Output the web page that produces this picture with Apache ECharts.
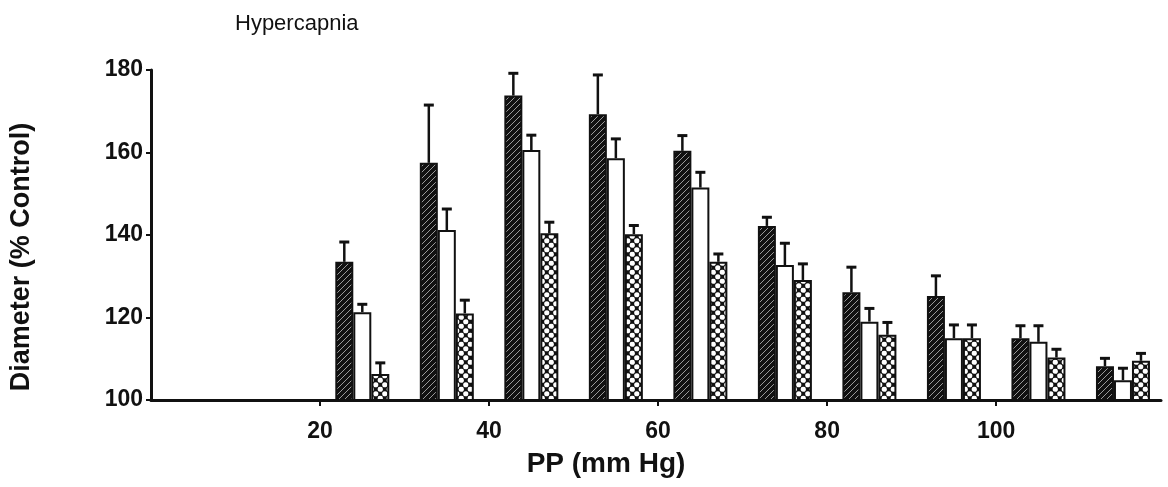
<!DOCTYPE html>
<html>
<head>
<meta charset="utf-8">
<script src="https://cdn.jsdelivr.net/npm/echarts@6/dist/echarts.min.js"></script>
<style>
  html, body { margin: 0; padding: 0; background: #fff; }
  #chart { width: 1168px; height: 487px; }
</style>
</head>
<body>
<div id="chart"></div>
<script>
// perfusion pressure groups (mm Hg)
const pp = [25, 35, 45, 55, 65, 75, 85, 95, 105, 115];
// diameter, % of control (bar tops) and bar top + SE
const darkMean  = [133.5, 157.5, 173.8, 169.3, 160.4, 142.2, 126.1, 125.2, 115.0, 108.2];
const darkErr   = [138.3, 171.5, 179.2, 178.8, 164.1, 144.3, 132.2, 130.1, 118.0, 110.1];
const whiteMean = [121.3, 141.2, 160.6, 158.6, 151.5, 132.7, 119.0, 115.0, 114.1, 104.8];
const whiteErr  = [123.2, 146.3, 164.2, 163.3, 155.2, 138.0, 122.2, 118.2, 118.0, 107.7];
const dotMean   = [106.3, 121.0, 140.4, 140.2, 133.5, 129.1, 115.8, 115.0, 110.3, 109.5];
const dotErr    = [109.0, 124.2, 143.1, 142.3, 135.4, 133.0, 118.8, 118.2, 112.3, 111.3];
const xTicks = [20, 40, 60, 80, 100];
const yTicks = [100, 120, 140, 160, 180];

const BAR_W = 18;

function makeTile(size, draw) {
  const c = document.createElement('canvas');
  c.width = size; c.height = size;
  draw(c.getContext('2d'));
  return c;
}

const hatch = makeTile(6, ctx => {
  ctx.fillStyle = '#111';
  ctx.fillRect(0, 0, 6, 6);
  ctx.strokeStyle = '#9a9a9a';
  ctx.lineWidth = 1;
  ctx.beginPath();
  ctx.moveTo(0, 6); ctx.lineTo(6, 0);
  ctx.stroke();
});

// white rings on black, staggered
const dots = makeTile(9, ctx => {
  ctx.fillStyle = '#111';
  ctx.fillRect(0, 0, 9, 9);
  ctx.fillStyle = '#fff';
  [[2.25, 2.25], [6.75, 6.75], [-2.25, 6.75], [6.75, -2.25], [11.25, 2.25], [2.25, 11.25]].forEach(([x, y]) => {
    ctx.beginPath();
    ctx.arc(x, y, 2.6, 0, Math.PI * 2);
    ctx.fill();
  });
});

const triple = (xs, a, b) => xs.map((x, i) => [x, a[i], b[i]]);

function barSeries(name, mean, color) {
  return {
    name: name,
    type: 'bar',
    data: mean.map((v, i) => [pp[i], v]),
    barWidth: BAR_W,
    barGap: '0%',
    itemStyle: { color: color, borderColor: '#111', borderWidth: 2 },
    silent: true
  };
}

function errSeries(mean, err, offset) {
  return {
    type: 'custom',
    silent: true,
    z: 3,
    data: triple(pp, mean, err),
    renderItem: (params, api) => {
      const x = api.value(0);
      const bot = api.coord([x, api.value(1)]);
      const top = api.coord([x, api.value(2)]);
      const cx = top[0] + offset;
      return {
        type: 'group',
        children: [
          { type: 'line', shape: { x1: cx, y1: bot[1], x2: cx, y2: top[1] },
            style: { stroke: '#111', lineWidth: 2.5 } },
          { type: 'line', shape: { x1: cx - 5, y1: top[1], x2: cx + 5, y2: top[1] },
            style: { stroke: '#111', lineWidth: 3 } }
        ]
      };
    }
  };
}

const chart = echarts.init(document.getElementById('chart'));
const font = "'Liberation Sans', Arial, sans-serif";

chart.setOption({
  backgroundColor: '#fff',
  animation: false,
  title: {
    text: 'Hypercapnia',
    left: 230, top: 8,
    textStyle: { fontFamily: font, fontSize: 22, fontWeight: 'normal', color: '#111' }
  },
  grid: { left: 147, right: 7, top: 70, bottom: 87 },
  xAxis: {
    type: 'value',
    min: 0, max: 119.5,
    name: 'PP (mm Hg)',
    nameLocation: 'middle',
    nameGap: 50,
    nameTextStyle: { fontFamily: font, fontSize: 28, fontWeight: 'bold', color: '#111', padding: [0, 100, 0, 0] },
    axisLine: { lineStyle: { color: '#111', width: 3 } },
    axisTick: { customValues: xTicks, length: 6, inside: false, lineStyle: { color: '#111', width: 2 } },
    axisLabel: { customValues: xTicks, margin: 20, fontFamily: font, fontSize: 23, fontWeight: 'bold', color: '#111' },
    splitLine: { show: false }
  },
  yAxis: {
    type: 'value',
    min: 100, max: 180, interval: 20,
    name: 'Diameter (% Control)',
    nameLocation: 'middle',
    nameGap: 116,
    nameRotate: 90,
    nameTextStyle: { fontFamily: font, fontSize: 27, fontWeight: 'bold', color: '#111', padding: [0, 44, 0, 0] },
    axisLine: { show: true, lineStyle: { color: '#111', width: 3 } },
    axisTick: { show: true, length: 5, lineStyle: { color: '#111', width: 2 } },
    axisLabel: { customValues: yTicks, margin: 8, fontFamily: font, fontSize: 23, fontWeight: 'bold', color: '#111' },
    splitLine: { show: false }
  },
  series: [
    errSeries(darkMean, darkErr, -BAR_W),
    errSeries(whiteMean, whiteErr, 0),
    errSeries(dotMean, dotErr, BAR_W),
    barSeries('a', darkMean, { image: hatch, repeat: 'repeat' }),
    barSeries('b', whiteMean, '#fff'),
    barSeries('c', dotMean, { image: dots, repeat: 'repeat' })
  ]
});
</script>
</body>
</html>
